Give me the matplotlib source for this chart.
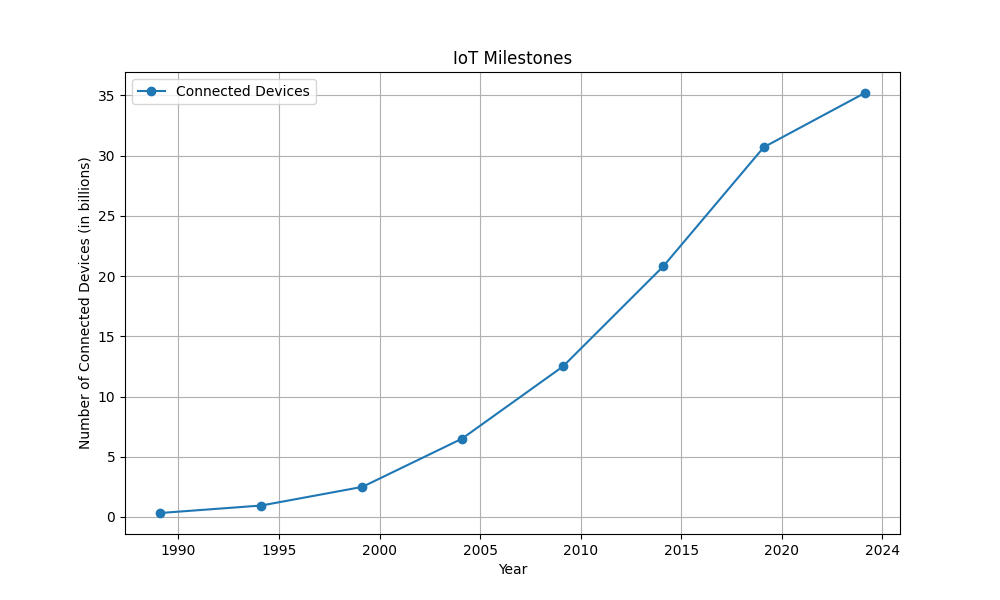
import matplotlib
matplotlib.use("Agg")
import matplotlib.pyplot as plt

# year positions (points sit just past the year mark)
years = [1989.1, 1994.12, 1999.15, 2004.1, 2009.12, 2014.1, 2019.1, 2024.12]
devices = [0.33, 0.95, 2.5, 6.5, 12.5, 20.8, 30.7, 35.2]
tick_pos = [1990, 1995, 2000, 2005, 2010, 2015, 2020, 2025]
tick_labels = ['1990', '1995', '2000', '2005', '2010', '2015', '2020', '2024']


def main():
    fig, ax = plt.subplots(figsize=(10, 6), dpi=100)
    ax.plot(years, devices, marker='o', label='Connected Devices')
    ax.set_xticks(tick_pos, tick_labels)
    ax.set_title('IoT Milestones')
    ax.set_xlabel('Year')
    ax.set_ylabel('Number of Connected Devices (in billions)')
    ax.legend(loc='upper left')
    ax.grid(True)
    fig.savefig('out.png')


if __name__ == '__main__':
    main()
